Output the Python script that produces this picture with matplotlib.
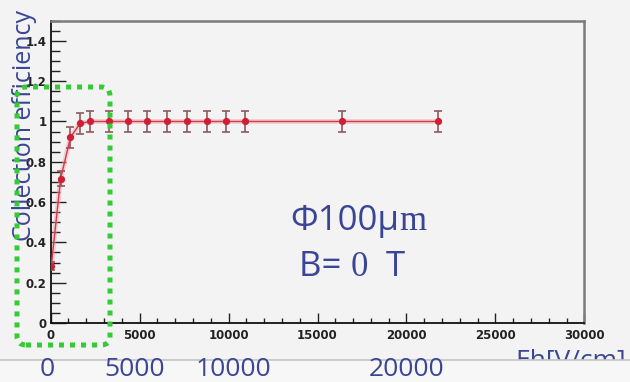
import matplotlib
matplotlib.use("Agg")
import matplotlib.pyplot as plt
from matplotlib.ticker import MultipleLocator, FuncFormatter
from matplotlib.patches import FancyBboxPatch, Rectangle
from matplotlib.lines import Line2D
from matplotlib.offsetbox import TextArea, HPacker, AnchoredOffsetbox

# ---- data ----
field = [30, 560, 1110, 1650, 2200, 3300, 4360, 5430, 6540, 7650, 8760, 9840, 10910, 16360, 21790]
efficiency = [0.283, 0.717, 0.921, 0.99, 1.0, 1.0, 1.0, 1.0, 1.0, 1.0, 1.0, 1.0, 1.0, 1.0, 1.0]
eff_err = [0.02, 0.035, 0.053, 0.05, 0.05, 0.05, 0.05, 0.05, 0.05, 0.05, 0.05, 0.05, 0.05, 0.05, 0.05]
bottom_labels = ["0", "5000", "10000", "20000"]
bottom_label_x = [47, 135, 233, 407]  # pixel centres of the slide labels

W, H = 630, 382
BG = "#f3f3f3"
BLUE = "#3a4595"

fig = plt.figure(figsize=(W / 100, H / 100), dpi=100, facecolor=BG)
ax = fig.add_axes([50.7 / W, 1 - 323 / H, (584.3 - 50.7) / W, (323 - 20.7) / H])
ax.set_facecolor(BG)

# glow + line + markers
ax.plot(field, efficiency, color="#f0a0a8", lw=3.5, alpha=0.45, zorder=2)
ax.errorbar(field, efficiency, yerr=eff_err, fmt="none", ecolor="#8e5a5e",
            elinewidth=1.2, capsize=3, capthick=1.2, zorder=3)
ax.plot(field, efficiency, color="#d43a4a", lw=1.0, marker="o", ms=4.2,
        mfc="#d01f35", mec="#d01f35", zorder=4)

ax.set_xlim(0, 30000)
ax.set_ylim(0, 1.5)
ax.xaxis.set_major_locator(MultipleLocator(5000))
ax.xaxis.set_minor_locator(MultipleLocator(1000))
ax.yaxis.set_major_locator(MultipleLocator(0.2))
ax.yaxis.set_minor_locator(MultipleLocator(0.05))
ax.yaxis.set_major_formatter(FuncFormatter(lambda v, p: "%g" % round(v, 2) if v < 1.45 else ""))
ax.xaxis.set_major_formatter(FuncFormatter(lambda v, p: "%d" % v))

ax.tick_params(axis="x", which="major", direction="in", length=7.2, width=1.0,
               color="#222222", pad=4, labelsize=8.5)
ax.tick_params(axis="x", which="minor", direction="in", length=3.6, width=1.0, color="#222222")
ax.tick_params(axis="y", which="major", direction="in", length=10.8, width=1.0,
               color="#222222", pad=3, labelsize=8.5)
ax.tick_params(axis="y", which="minor", direction="in", length=6.5, width=1.0, color="#222222")
for lab in ax.get_xticklabels() + ax.get_yticklabels():
    lab.set_fontweight("bold")
    lab.set_color("#222222")

for s in ["left", "bottom"]:
    ax.spines[s].set_color("#111111")
    ax.spines[s].set_linewidth(1.3)
for s in ["top", "right"]:
    ax.spines[s].set_color("#7a7a7a")
    ax.spines[s].set_linewidth(1.8)

# annotation text inside the plot
def fx(px):
    return px / W

def fy(py):
    return 1 - py / H

sans = "Open Sans"
serif = "Liberation Serif"
box1 = HPacker(children=[
    TextArea("Φ100μ", textprops=dict(family=sans, size=25, color=BLUE)),
    TextArea("m", textprops=dict(family=serif, size=25, color=BLUE)),
], sep=0, align="baseline")
ab1 = AnchoredOffsetbox(loc="center", child=box1, frameon=False,
                        bbox_to_anchor=(fx(358), fy(221)), bbox_transform=fig.transFigure,
                        borderpad=0, pad=0)
fig.add_artist(ab1)
box2 = HPacker(children=[
    TextArea("B= ", textprops=dict(family=sans, size=25, color=BLUE)),
    TextArea("0", textprops=dict(family=serif, size=25, color=BLUE)),
    TextArea("  T", textprops=dict(family=sans, size=25, color=BLUE)),
], sep=0, align="baseline")
ab2 = AnchoredOffsetbox(loc="center", child=box2, frameon=False,
                        bbox_to_anchor=(fx(352), fy(267)), bbox_transform=fig.transFigure,
                        borderpad=0, pad=0)
fig.add_artist(ab2)

# slide y label
fig.text(fx(25), fy(241), "Collection efficiency", rotation=90, ha="center", va="bottom",
         family=sans, size=18, color=BLUE, zorder=6)

# slide x label (cut by the bottom strip)
fig.text(fx(515), fy(348), "Eh[V/cm]", ha="left", va="top", family=sans, size=19,
         color=BLUE, zorder=1)

# bottom strip
fig.add_artist(Rectangle((0, 0), 1, 22 / H, transform=fig.transFigure,
                         facecolor="#f7f7f7", edgecolor="none", zorder=5))
fig.add_artist(Line2D([0, 1], [22 / H, 22 / H], transform=fig.transFigure,
                      color="#c4c4c4", lw=1.2, zorder=5))
for lab, px in zip(bottom_labels, bottom_label_x):
    fig.text(fx(px), fy(369), lab, ha="center", va="center", family=sans, size=19,
             color=BLUE, zorder=6)

# green dotted highlight box
gx0, gx1, gy_top, gy_bot = 17, 110, 87, 345
green = FancyBboxPatch((gx0 / 100, (H - gy_bot) / 100), (gx1 - gx0) / 100, (gy_bot - gy_top) / 100,
                       boxstyle="round,pad=0,rounding_size=0.09", transform=fig.dpi_scale_trans,
                       facecolor="none", edgecolor="#33cc33", lw=3.6,
                       linestyle=(0, (1.0, 1.2)), zorder=7)
green.set_capstyle("butt")
fig.add_artist(green)

fig.savefig("out.png", dpi=100, facecolor=BG)
